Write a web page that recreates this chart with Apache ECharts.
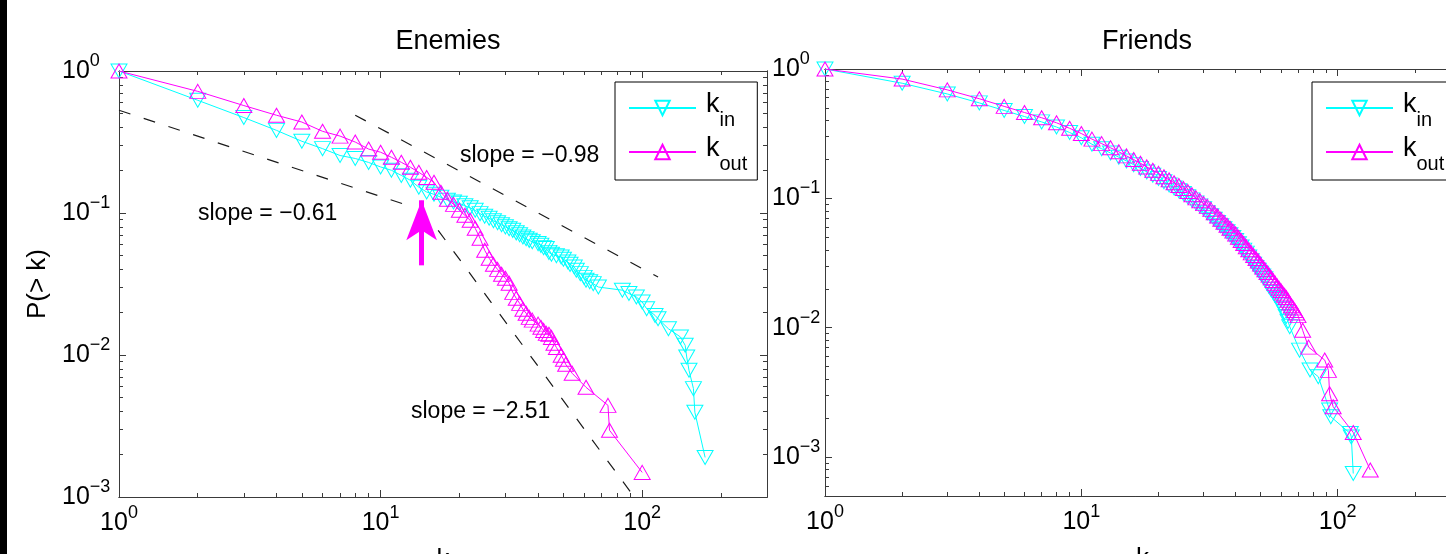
<!DOCTYPE html>
<html>
<head>
<meta charset="utf-8">
<script src="https://cdn.jsdelivr.net/npm/echarts@6/dist/echarts.min.js"></script>
<style>
  html, body { margin: 0; padding: 0; background: #fff; }
  #chart { width: 1446px; height: 554px; }
</style>
</head>
<body>
<div id="chart"></div>
<script>
// degree distributions P(>k)
const enemiesIn = [[1,1],[2,0.622],[3,0.470],[4,0.382],[5,0.320],[6,0.284],[7,0.254],[8,0.242],[9,0.227],[10,0.211],
    [11,0.200],[12,0.184],[13,0.170],[14,0.152],[15,0.1405],[16,0.1354],[17,0.129],[18,0.1229],[19,0.1195],[20,0.117],
    [21,0.1124],[22,0.1088],[23,0.1045],[24,0.099],[25,0.0948],[26,0.0918],[27,0.0881],[28,0.0853],[29,0.0826],[30,0.0799],
    [31,0.0774],[32,0.0755],[33,0.0725],[34,0.0702],[35,0.0678],[36,0.0658],[37,0.0642],[38,0.0627],[40,0.0609],[41,0.0592],
    [42,0.0569],[43,0.0562],[44,0.0528],[45,0.0512],[47,0.050],[49,0.049],[50,0.0472],[52,0.0452],[53,0.0435],[55,0.0417],
    [56,0.0395],[58,0.0374],[60,0.0352],[61,0.0336],[63,0.0328],[65,0.0318],[68,0.0301],[84,0.0286],[89,0.0271],[95,0.0256],
    [100,0.0236],[104,0.0212],[112,0.019],[115,0.018],[126,0.0153],[140,0.0134],[146,0.0117],[148,0.00968],[151,0.0078],
    [157,0.0058],[159,0.00395],[174,0.0019]];
const enemiesOut = [[1,1],[2,0.719],[3,0.571],[4,0.488],[5,0.437],[6,0.376],[7,0.348],[8,0.316],[9,0.282],[10,0.268],
    [11,0.247],[12,0.2275],[13,0.21],[14,0.1935],[15,0.178],[16,0.1645],[17,0.14],[18,0.125],[19,0.115],[20,0.1045],
    [21,0.0963],[22,0.0888],[23,0.078],[24,0.0664],[25,0.0546],[26,0.048],[27,0.0435],[28,0.0401],[29,0.037],[30,0.0347],
    [31,0.032],[32,0.0276],[33,0.0251],[34,0.0231],[35,0.021],[36,0.0197],[37,0.0184],[38,0.0176],[40,0.0165],[41,0.0157],
    [42,0.0149],[43,0.0142],[44,0.014],[45,0.0133],[46,0.0121],[47,0.0113],[49,0.00995],[50,0.00933],[51,0.0086],
    [54,0.00743],[61,0.00592],[74,0.00442],[75,0.00295],[100,0.00149]];
const friendsIn = [[1,1],[2,0.776],[3,0.641],[4,0.547],[5,0.478],[6,0.429],[7,0.390],[8,0.356],[9,0.323],[10,0.294],
    [11,0.262],[12,0.242],[13,0.224],[14,0.208],[15,0.1945],[16,0.182],[17,0.1706],[18,0.160],[19,0.1507],[20,0.1426],
    [21,0.1343],[22,0.1271],[23,0.1205],[24,0.1146],[25,0.1089],[26,0.103],[27,0.0973],[28,0.092],[29,0.0873],[30,0.083],
    [31,0.0773],[32,0.0733],[33,0.069],[34,0.0652],[35,0.0615],[36,0.0582],[37,0.0552],[38,0.0524],[39,0.0498],[40,0.0473],
    [41,0.0446],[42,0.0421],[43,0.0398],[44,0.0377],[45,0.0352],[46,0.033],[47,0.031],[48,0.0292],[49,0.0278],[50,0.0264],
    [51,0.0251],[52,0.0239],[53,0.022],[54,0.0208],[55,0.0197],[56,0.0187],[57,0.0177],[58,0.0168],[59,0.0159],[60,0.015],
    [61,0.0141],[62,0.0132],[63,0.0122],[64,0.0112],[65,0.0102],[71,0.00671],[78,0.00471],[84,0.00418],[93,0.00231],
    [94,0.00205],[112,0.00152],[113,0.00143],[115,0.000746]];
const friendsOut = [[1,1],[2,0.836],[3,0.690],[4,0.589],[5,0.514],[6,0.461],[7,0.420],[8,0.384],[9,0.348],[10,0.317],
    [11,0.287],[12,0.265],[13,0.246],[14,0.229],[15,0.213],[16,0.1995],[17,0.187],[18,0.175],[19,0.165],[20,0.156],
    [21,0.147],[22,0.139],[23,0.132],[24,0.1256],[25,0.119],[26,0.113],[27,0.1067],[28,0.1009],[29,0.0957],[30,0.091],
    [31,0.0867],[32,0.0822],[33,0.0774],[34,0.0731],[35,0.069],[36,0.0653],[37,0.0619],[38,0.0587],[39,0.0558],[40,0.0531],
    [41,0.05],[42,0.0472],[43,0.0447],[44,0.0423],[45,0.04],[46,0.0379],[47,0.0361],[48,0.0343],[49,0.0327],[50,0.031],
    [51,0.0295],[52,0.0281],[53,0.0267],[54,0.0255],[55,0.0243],[56,0.0232],[57,0.0221],[58,0.0211],[59,0.0202],[60,0.0194],
    [61,0.0185],[62,0.0178],[63,0.0171],[64,0.0163],[65,0.0155],[66,0.0148],[67,0.0142],[68,0.0136],[69,0.013],[70,0.0124],
    [73,0.00955],[77,0.00708],[89,0.00562],[92,0.00468],[93,0.00309],[96,0.00245],[115,0.00155],[134,0.000794]];

// dashed fits and the arrow on the enemies panel
const slope061 = [[1, 0.529], [13, 0.1115]];
const slope098 = [[8, 0.488], [115, 0.0354]];
const slope251 = [[16.6, 0.0755], [93.2, 0.001]];
const arrowLine = [[14.35, 0.0428], [14.35, 0.1229]];
const slopeTexts = ['slope = \u22120.61', 'slope = \u22120.98', 'slope = \u22122.51'];

// ticks
const xMajor = [1, 10, 100];
const xMinor = [2, 3, 4, 5, 6, 7, 8, 9, 20, 30, 40, 50, 60, 70, 80, 90, 200];
const yMajor = [0.001, 0.01, 0.1, 1];
const yMinor = [0.0006, 0.0007, 0.0008, 0.0009, 0.002, 0.003, 0.004, 0.005, 0.006, 0.007, 0.008, 0.009,
    0.02, 0.03, 0.04, 0.05, 0.06, 0.07, 0.08, 0.09, 0.2, 0.3, 0.4, 0.5, 0.6, 0.7, 0.8, 0.9];
const seriesNames = ['in', 'out'];

const FONT = '"Liberation Sans", Arial, sans-serif';
const AXIS = '#3a3a3a';
const CYAN = '#00ffff';
const MAGENTA = '#ff00ff';
const DOWN = 'path://M0,0 L10,0 L5,9 Z';
const UP = 'path://M5,0 L10,9 L0,9 Z';

const powRich = {
    b: { fontSize: 25, lineHeight: 30, fontFamily: FONT, color: '#000' },
    s: { fontSize: 18, lineHeight: 18, fontFamily: FONT, color: '#000', padding: [0, 0, 20, 0] }
};

function powLabel(v) {
    let e = Math.round(Math.log10(v));
    let txt = e < 0 ? '\u2212' + (-e) : String(e);
    return '{b|10}{s|' + txt + '}';
}

function logAxis(grid, pos, min, max, ticks, len, extra) {
    return Object.assign({
        type: 'log',
        logBase: 10,
        gridIndex: grid,
        position: pos,
        min: min,
        max: max,
        axisLine: { show: true, lineStyle: { color: AXIS, width: 1 } },
        axisTick: { show: true, inside: true, length: len, customValues: ticks, lineStyle: { color: AXIS, width: 1 } },
        axisLabel: { show: false },
        splitLine: { show: false },
        minorTick: { show: false },
        minorSplitLine: { show: false },
        axisPointer: { show: false },
    }, extra || {});
}

function xLabelAxis(grid, min, max) {
    return logAxis(grid, 'bottom', min, max, xMajor, 7, {
        axisLabel: { show: true, customValues: xMajor, margin: 11, formatter: powLabel, rich: powRich },
        name: 'k',
        nameLocation: 'middle',
        nameGap: 47,
        nameTextStyle: { fontSize: 26, fontFamily: FONT, color: '#000' },
    });
}

function yLabelAxis(grid, min, max, margin, name) {
    let extra = {
        axisLabel: { show: true, customValues: yMajor, align: 'left', margin: margin, formatter: powLabel, rich: powRich },
    };
    if (name) {
        extra.name = name;
        extra.nameLocation = 'middle';
        extra.nameGap = 68;
        extra.nameRotate = 90;
        extra.nameTextStyle = { fontSize: 26, fontFamily: FONT, color: '#000' };
    }
    return logAxis(grid, 'left', min, max, yMajor, 7, extra);
}

function degreeSeries(name, data, grid, up) {
    let color = up ? MAGENTA : CYAN;
    return {
        name: name,
        type: 'line',
        xAxisIndex: grid * 4,
        yAxisIndex: grid * 4,
        data: data,
        symbol: up ? UP : DOWN,
        symbolSize: [16, 14],
        lineStyle: { color: color, width: 1 },
        itemStyle: { color: 'rgba(255,255,255,0)', borderColor: color, borderWidth: 1 },
        silent: true,
        z: up ? 4 : 3,
    };
}

function dashSeries(data) {
    return {
        type: 'line',
        xAxisIndex: 0,
        yAxisIndex: 0,
        data: data,
        symbol: 'none',
        lineStyle: { color: '#1a1a1a', width: 1.2, type: [12, 14] },
        silent: true,
        z: 2,
    };
}

function legendFor(left) {
    return {
        data: seriesNames,
        orient: 'vertical',
        left: left,
        top: 82,
        padding: [4, 10, 6, 13],
        itemWidth: 67,
        itemHeight: 18,
        itemGap: 0,
        borderColor: '#000',
        borderWidth: 1,
        backgroundColor: '#fff',
        selectedMode: false,
        formatter: name => '{k|k}{s|' + name + '}',
        textStyle: {
            color: '#000',
            rich: {
                k: { fontSize: 27, lineHeight: 30, fontFamily: FONT, color: '#000', padding: [0, 0, 7, 5] },
                s: { fontSize: 20, lineHeight: 20, fontFamily: FONT, color: '#000', padding: [24, 0, 0, 0] }
            }
        }
    };
}

let series = [
    dashSeries(slope061),
    dashSeries(slope098),
    dashSeries(slope251),
    degreeSeries('in', enemiesIn, 0, false),
    degreeSeries('out', enemiesOut, 0, true),
    degreeSeries('in', friendsIn, 1, false),
    degreeSeries('out', friendsOut, 1, true),
];
series[4].markLine = {
    silent: true,
    symbol: ['none', 'arrow'],
    symbolSize: [1, 30],
    label: { show: false },
    lineStyle: { color: MAGENTA, width: 5, type: 'solid' },
    data: [[
        { coord: arrowLine[0], symbol: 'none' },
        { coord: arrowLine[1], symbol: 'arrow', symbolSize: [23, 40] }
    ]],
};

const option = {
    animation: false,
    backgroundColor: '#fff',
    title: [
        { text: 'Enemies', left: 443, top: 23, textAlign: 'center',
          textStyle: { fontSize: 27, fontWeight: 'normal', fontFamily: FONT, color: '#000' } },
        { text: 'Friends', left: 1142, top: 23, textAlign: 'center',
          textStyle: { fontSize: 27, fontWeight: 'normal', fontFamily: FONT, color: '#000' } },
    ],
    legend: [legendFor(615), legendFor(1312)],
    grid: [
        { left: 119, top: 71, width: 648, height: 426, containLabel: false, outerBoundsMode: 'none' },
        { left: 825, top: 69, width: 635, height: 427, containLabel: false, outerBoundsMode: 'none' },
    ],
    xAxis: [
        xLabelAxis(0, 1, 300),
        logAxis(0, 'bottom', 1, 300, xMinor, 4),
        logAxis(0, 'top', 1, 300, xMajor, 7),
        logAxis(0, 'top', 1, 300, xMinor, 4),
        xLabelAxis(1, 1, 300),
        logAxis(1, 'bottom', 1, 300, xMinor, 4),
        logAxis(1, 'top', 1, 300, xMajor, 7),
        logAxis(1, 'top', 1, 300, xMinor, 4),
    ],
    yAxis: [
        yLabelAxis(0, 0.001, 1, 57, 'P(> k)'),
        logAxis(0, 'left', 0.001, 1, yMinor, 4),
        logAxis(0, 'right', 0.001, 1, yMajor, 7),
        logAxis(0, 'right', 0.001, 1, yMinor, 4),
        yLabelAxis(1, 0.0005, 1, 53, null),
        logAxis(1, 'left', 0.0005, 1, yMinor, 4),
        logAxis(1, 'right', 0.0005, 1, yMajor, 7),
        logAxis(1, 'right', 0.0005, 1, yMinor, 4),
    ],
    graphic: [
        { type: 'rect', left: 0, top: 0, shape: { width: 7, height: 554 }, style: { fill: '#000' }, z: 100 },
        { type: 'text', x: 198, y: 214, style: { text: slopeTexts[0], fontSize: 23, fontFamily: FONT, fill: '#000', verticalAlign: 'middle' } },
        { type: 'text', x: 460, y: 156, style: { text: slopeTexts[1], fontSize: 23, fontFamily: FONT, fill: '#000', verticalAlign: 'middle' } },
        { type: 'text', x: 411, y: 412, style: { text: slopeTexts[2], fontSize: 23, fontFamily: FONT, fill: '#000', verticalAlign: 'middle' } },
    ],
    series: series,
};

let chart = echarts.init(document.getElementById('chart'));
chart.setOption(option);
</script>
</body>
</html>
